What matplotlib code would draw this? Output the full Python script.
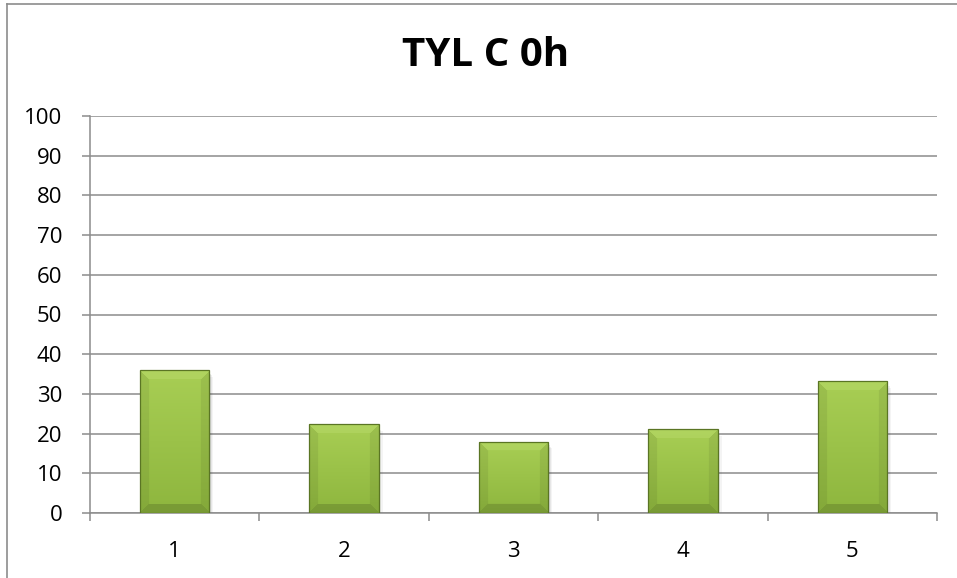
import numpy as np
import matplotlib
matplotlib.use("Agg")
import matplotlib.pyplot as plt
from matplotlib.lines import Line2D
from matplotlib.patches import Rectangle

categories = ["1", "2", "3", "4", "5"]
values = [36.0, 22.3, 18.0, 21.1, 33.2]
yticks = list(range(0, 101, 10))
title = "TYL C 0h"

W, H = 957, 578
fig = plt.figure(figsize=(W / 100, H / 100), dpi=100)
fig.patch.set_facecolor("white")
ax = fig.add_axes([90 / W, 1 - 513 / H, (937 - 90) / W, (513 - 116) / H])

x = np.arange(1, len(categories) + 1)
ax.set_xlim(0.5, len(categories) + 0.5)
ax.set_ylim(0, 100)

grid_c = "#8c8c8c"
ax.set_yticks(yticks)
ax.yaxis.grid(True, color=grid_c, linewidth=1.1)
ax.set_axisbelow(True)
for s in ["top", "right"]:
    ax.spines[s].set_visible(False)
for s in ["left", "bottom"]:
    ax.spines[s].set_color(grid_c)
    ax.spines[s].set_linewidth(1.1)

ax.tick_params(axis="y", direction="out", length=6, width=1.1, color=grid_c,
               pad=14, labelsize=16)
ax.set_xticks(x)
ax.set_xticklabels(categories)
ax.tick_params(axis="x", which="major", length=0, pad=20, labelsize=16)
ax.set_xticks(np.arange(0.5, len(categories) + 1, 1.0), minor=True)
ax.tick_params(axis="x", which="minor", direction="out", length=6, width=1.1,
               color=grid_c)
for lab in ax.get_xticklabels() + ax.get_yticklabels():
    lab.set_fontfamily("Open Sans")

bw = 0.41
bars = ax.bar(x, values, width=bw, color="#9cc44a", edgecolor="#5a7524",
              linewidth=0.9, zorder=3)

# soft shadows
for b in bars:
    for k, a in enumerate([0.10, 0.07, 0.05]):
        d = 0.006 * (k + 1)
        sh = Rectangle((b.get_x() + d * 0.3, -0.9 - k * 0.4), b.get_width() + d,
                       b.get_height(), facecolor="#303030", alpha=a,
                       edgecolor="none", zorder=2)
        ax.add_patch(sh)

# gradient + bevel fill
for b in bars:
    x0, w, h = b.get_x(), b.get_width(), b.get_height()
    pw = int(round(w * 169.4))
    ph = max(int(round(h * 3.97)), 2)
    img = np.zeros((ph, pw, 3))
    t = np.linspace(0, 1, ph)[:, None]
    top = np.array([168, 206, 84]) / 255
    bot = np.array([142, 182, 62]) / 255
    img[:] = (top * (1 - t) + bot * t)[:, None, :].reshape(ph, 1, 3)
    bev = 9
    yy, xx = np.mgrid[0:ph, 0:pw]
    dl, dr, dt, db = xx, pw - 1 - xx, yy, ph - 1 - yy
    m = np.minimum(np.minimum(dl, dr), np.minimum(dt, db))
    region = m < bev
    topband = region & (dt <= np.minimum(dl, dr)) & (dt < bev)
    botband = region & (db <= np.minimum(dl, dr)) & (db < bev) & ~topband
    sideband = region & ~topband & ~botband
    img[topband] = img[topband] * 0.8 + np.array([0.82, 0.93, 0.55]) * 0.2
    img[sideband] = img[sideband] * 0.93
    img[botband] = img[botband] * 0.85
    im = ax.imshow(img, extent=[x0, x0 + w, 0, h], origin="upper",
                   aspect="auto", zorder=3.5, interpolation="bilinear")
    im.set_clip_path(b)
ax.set_xlim(0.5, len(categories) + 0.5)
ax.set_ylim(0, 100)
for b in bars:
    b.set_facecolor("none")
    b.set_zorder(4)

fig.text(486 / W, 1 - 55 / H, title, ha="center", va="center",
         fontsize=29, fontweight="bold", fontfamily="Open Sans")

fig.add_artist(Line2D([7 / W, 1], [1 - 4 / H, 1 - 4 / H], color="#8c8c8c",
                      linewidth=1.2, transform=fig.transFigure))
fig.add_artist(Line2D([7 / W, 7 / W], [0, 1 - 4 / H], color="#8c8c8c",
                      linewidth=1.2, transform=fig.transFigure))

fig.savefig("out.png", dpi=100)
